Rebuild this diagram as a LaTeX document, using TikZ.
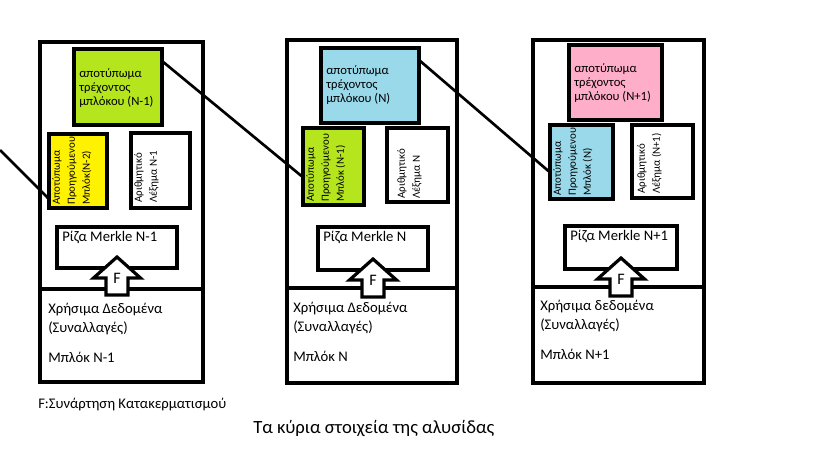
\documentclass[tikz,border=0pt]{standalone}
\usepackage{fontspec}
\setmainfont{Carlito}
\usetikzlibrary{calc}

\definecolor{limegr}{RGB}{181,230,29}
\definecolor{yell}{RGB}{255,242,0}
\definecolor{turq}{RGB}{153,217,234}
\definecolor{rose}{RGB}{255,174,201}

\tikzset{
  sz/.style 2 args={minimum width=#1*0.75pt, minimum height=#2*0.75pt},
  outer/.style={draw, line width=3.6pt, inner sep=0, outer sep=0, anchor=north west},
  box/.style={draw, line width=2.8pt, inner sep=0, outer sep=0, anchor=north west},
  txt/.style={inner sep=0, align=left, font=\fontsize{11}{14.3}\selectfont},
  fptxt/.style={inner sep=0, align=left, anchor=west, font=\fontsize{9.5}{10.5}\selectfont},
  vtxt/.style={inner sep=0, align=left, rotate=90, anchor=north west, font=\fontsize{8.2}{11.2}\selectfont},
  chain/.style={line width=2pt},
  harrow/.pic={
    \draw[line width=2.4pt, fill=white] (0,0) -- (23.5,21) -- (11,21) -- (11,38)
      -- (-11,38) -- (-11,21) -- (-23.5,21) -- cycle;
    \node[font=\fontsize{12}{14}\selectfont, inner sep=0] (-f) at (0,21) {F};
  }
}

\begin{document}
\begin{tikzpicture}[x=0.75pt, y=-0.75pt]
\useasboundingbox (0,0) rectangle (819,460);

% Block N-1
\node[outer, sz={163}{247}] (u1) at (40,42) {};
\node[outer, sz={163}{93}] (d1) at (40,289) {};
\node[box, fill=limegr, sz={88}{76}] (c1) at (74,49) {};
\node[box, fill=yell, sz={58}{74}] (p1) at (49,134) {};
\node[box, sz={59}{75}] (k1) at (131,133) {};
\node[box, sz={120}{41}] (m1) at (57,227) {};
\node[fptxt] (c1t) at ($(c1.west)+(5,1)$) {αποτύπωμα\\τρέχοντος\\μπλόκου (N-1)};
\node[vtxt] (p1t) at ($(p1.south west)+(3,-3)$) {Αποτύπωμα\\Προηγούμενου\\Μπλόκ(N-2)};
\node[vtxt] (k1t) at ($(k1.south west)+(3,-5)$) {Αριθμητικό\\Λέξημα N-1};
\node[txt, anchor=north west] (m1t) at ($(m1.north west)+(5,4)$) {Ρίζα Merkle N-1};
\node[txt, anchor=north west] (d1t) at ($(d1.north west)+(8,14)$) {Χρήσιμα Δεδομένα\\(Συναλλαγές)\\[8pt]Μπλόκ N-1};

% Block N
\node[outer, sz={170}{248}] (u2) at (287,40) {};
\node[outer, sz={170}{95}] (d2) at (287,288) {};
\node[box, fill=turq, sz={98}{75}] (c2) at (321,48) {};
\node[box, fill=limegr, sz={61}{77}] (p2) at (303,128) {};
\node[box, sz={61}{74}] (k2) at (387,128) {};
\node[box, sz={110}{43}] (m2) at (318,227) {};
\node[fptxt] (c2t) at ($(c2.west)+(5,0)$) {αποτύπωμα\\τρέχοντος\\μπλόκου (N)};
\node[vtxt] (p2t) at ($(p2.south west)+(3,-3)$) {Αποτύπωμα\\Προηγούμενου\\Μπλόκ (N-1)};
\node[vtxt] (k2t) at ($(k2.south west)+(10,-3)$) {Αριθμητικό\\Λέξημα N};
\node[txt, anchor=north west] (m2t) at ($(m2.north west)+(5,4)$) {Ρίζα Merkle N};
\node[txt, anchor=north west] (d2t) at ($(d2.north west)+(6,14)$) {Χρήσιμα Δεδομένα\\(Συναλλαγές)\\[8pt]Μπλόκ N};

% Block N+1
\node[outer, sz={171}{247}] (u3) at (533,40) {};
\node[outer, sz={171}{96}] (d3) at (533,287) {};
\node[box, fill=rose, sz={93}{75}] (c3) at (569,45) {};
\node[box, fill=turq, sz={63}{74}] (p3) at (550,125) {};
\node[box, sz={61}{73}] (k3) at (632,125) {};
\node[box, sz={112}{43}] (m3) at (565,226) {};
\node[fptxt] (c3t) at ($(c3.west)+(5,1)$) {αποτύπωμα\\τρέχοντος\\μπλόκου (N+1)};
\node[vtxt] (p3t) at ($(p3.south west)+(3,-3)$) {Αποτύπωμα\\Προηγούμενου\\Μπλόκ (N)};
\node[vtxt] (k3t) at ($(k3.south west)+(5,-4)$) {Αριθμητικό\\Λέξημα (N+1)};
\node[txt, anchor=north west] (m3t) at ($(m3.north west)+(5,4)$) {Ρίζα Merkle N+1};
\node[txt, anchor=north west] (d3t) at ($(d3.north west)+(7,13)$) {Χρήσιμα δεδομένα\\(Συναλλαγές)\\[8pt]Μπλόκ N+1};

% Chain links
\coordinate (s0) at (0,150);
\draw[chain] (s0) -- ($(p1.north west)!0.88!(p1.south west)$);
\foreach \a/\b in {1/2,2/3}
  \draw[chain] ($(c\a.north east)+(0,12)$) -- ($(p\b.north west)!0.64!(p\b.south west)$);

% Hash arrows
\foreach \i in {1,2,3}
  \pic (a\i) at ($(m\i.south)+(0,-11)$) {harrow};

\node[txt, anchor=west] (key) at (38,405) {F:Συνάρτηση Κατακερματισμού};
\node[inner sep=0, anchor=west, font=\fontsize{14}{16}\selectfont] (title) at (253,428) {Τα κύρια στοιχεία της αλυσίδας};
\end{tikzpicture}
\end{document}
